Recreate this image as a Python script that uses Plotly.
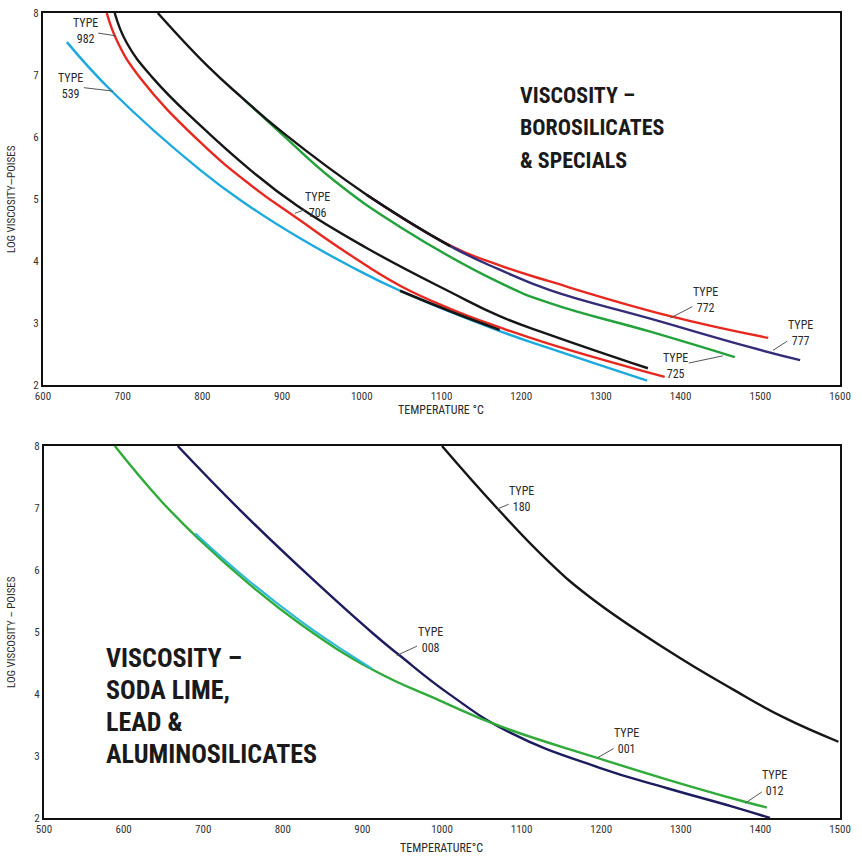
import plotly.graph_objects as go

# ---------------- TOP CHART DATA (Temperature °C, log viscosity) ----------------
t539 = [630, 687, 797, 857, 922, 985, 1048, 1173, 1236, 1358]
v539 = [7.53, 6.73, 5.47, 4.90, 4.37, 3.92, 3.52, 2.87, 2.59, 2.07]

t982 = [680, 694, 722, 797, 860, 922, 985, 1048, 1111, 1173, 1236, 1380]
v982 = [8.0, 7.52, 6.95, 5.92, 5.23, 4.66, 4.10, 3.60, 3.23, 2.93, 2.66, 2.13]

t_overlap = [1048, 1111, 1173]
v_overlap = [3.52, 3.19, 2.89]

t706 = [690, 705, 738, 797, 860, 919, 1006, 1111, 1173, 1236, 1359]
v706 = [8.0, 7.52, 6.95, 6.19, 5.47, 4.89, 4.21, 3.50, 3.11, 2.81, 2.27]

t_shared = [744, 806, 851, 901, 1006, 1111]
v_shared = [8.0, 7.15, 6.62, 6.07, 5.07, 4.24]

t725 = [851, 901, 964, 1048, 1173, 1236, 1362, 1468]
v725 = [6.62, 6.03, 5.31, 4.55, 3.65, 3.32, 2.86, 2.45]

t772 = [1006, 1111, 1173, 1236, 1387, 1510]
v772 = [5.07, 4.25, 3.93, 3.67, 3.11, 2.76]

t777 = [1006, 1111, 1173, 1236, 1362, 1487, 1550]
v777 = [5.07, 4.24, 3.86, 3.53, 3.07, 2.61, 2.40]

top_types = ["982", "539", "706", "772", "777", "725"]
top_ptr_t = [692, 688, 916, 1387, 1516, 1453]
top_ptr_v = [7.63, 6.74, 4.77, 3.08, 2.56, 2.47]
top_txt_t = [653, 635, 945, 1431, 1550, 1394]
top_txt_v = [7.71, 6.82, 4.90, 3.37, 2.84, 2.31]

top_title = ["VISCOSITY –", "BOROSILICATES", "& SPECIALS"]

# ---------------- BOTTOM CHART DATA ----------------
t001 = [589, 646, 696, 759, 822, 913, 998, 1073, 1195, 1283, 1378, 1408]
v001 = [8.0, 7.13, 6.48, 5.76, 5.13, 4.39, 3.89, 3.48, 2.97, 2.62, 2.27, 2.17]

t_cyan = [690, 760, 822, 880, 912]
v_cyan = [6.59, 5.80, 5.18, 4.67, 4.41]

t008 = [668, 746, 830, 913, 947, 1010, 1085, 1198, 1283, 1366, 1412]
v008 = [8.0, 6.97, 5.94, 4.98, 4.62, 3.99, 3.38, 2.81, 2.48, 2.18, 2.0]

t180 = [1000, 1069, 1132, 1186, 1283, 1366, 1428, 1498]
v180 = [8.0, 7.0, 6.16, 5.56, 4.71, 4.07, 3.63, 3.23]

bot_types = ["180", "008", "001", "012"]
bot_ptr_t = [1069, 943, 1195, 1381]
bot_ptr_v = [6.98, 4.62, 2.97, 2.24]
bot_txt_t = [1100, 985, 1232, 1418]
bot_txt_v = [7.15, 4.87, 3.24, 2.56]

bot_title = ["VISCOSITY –", "SODA LIME,", "LEAD &", "ALUMINOSILICATES"]

top_xticks = list(range(600, 1601, 100))
bot_xticks = list(range(500, 1501, 100))
yticks = [2, 3, 4, 5, 6, 7, 8]

NARROW = "Liberation Sans Narrow, Roboto Condensed, Arial Narrow, Roboto, sans-serif"

CYAN = "#1ba9de"
RED = "#e8281f"
BLACK = "#161616"
GREEN = "#22a23a"
PURPLE = "#332c78"
NAVY = "#1d1c5e"
GREEN2 = "#2eab38"
CYAN2 = "#2cb8d8"

fig = go.Figure()


def add(x, y, color, xa, ya, width=2.4):
    fig.add_trace(go.Scatter(
        x=x, y=y, mode="lines",
        line=dict(color=color, width=width, shape="spline", smoothing=1.3),
        xaxis=xa, yaxis=ya, hoverinfo="skip", showlegend=False))


# top chart
add(t539, v539, CYAN, "x", "y")
add(t982, v982, RED, "x", "y")
add(t_overlap, v_overlap, BLACK, "x", "y", 2.5)
add(t706, v706, BLACK, "x", "y")
add(t725, v725, GREEN, "x", "y")
add(t772, v772, RED, "x", "y")
add(t777, v777, PURPLE, "x", "y")
add(t_shared, v_shared, BLACK, "x", "y")

# bottom chart
add(t180, v180, BLACK, "x2", "y2")
add(t008, v008, NAVY, "x2", "y2")
add(t001, v001, GREEN2, "x2", "y2")
add(t_cyan, v_cyan, CYAN2, "x2", "y2", 2.0)

annotations = []
for name, pt, pv, tt, tv in zip(top_types, top_ptr_t, top_ptr_v, top_txt_t, top_txt_v):
    annotations.append(dict(
        x=pt, y=pv, ax=tt, ay=tv, xref="x", yref="y", axref="x", ayref="y",
        text="TYPE<br>" + name, showarrow=True, arrowhead=0, arrowwidth=1,
        arrowcolor="#555555", standoff=0, borderpad=0,
        font=dict(family=NARROW, size=12, color="#2a2a2a")))
for name, pt, pv, tt, tv in zip(bot_types, bot_ptr_t, bot_ptr_v, bot_txt_t, bot_txt_v):
    annotations.append(dict(
        x=pt, y=pv, ax=tt, ay=tv, xref="x2", yref="y2", axref="x2", ayref="y2",
        text="TYPE<br>" + name, showarrow=True, arrowhead=0, arrowwidth=1,
        arrowcolor="#555555", standoff=0, borderpad=0,
        font=dict(family=NARROW, size=12, color="#2a2a2a")))

H = 857.0
W = 862.0
top_title_y = [95, 127, 160]
for line, py in zip(top_title, top_title_y):
    annotations.append(dict(
        x=518 / W, y=1 - py / H, xref="paper", yref="paper",
        xanchor="left", yanchor="middle", showarrow=False,
        text="<b>" + line + "</b>",
        font=dict(family=NARROW, size=22, color="#1a1a1a")))
bot_title_y = [658, 690, 722, 754]
for line, py in zip(bot_title, bot_title_y):
    annotations.append(dict(
        x=104 / W, y=1 - py / H, xref="paper", yref="paper",
        xanchor="left", yanchor="middle", showarrow=False,
        text="<b>" + line + "</b>",
        font=dict(family=NARROW, size=26, color="#1a1a1a")))

# axis titles
title_font = dict(family=NARROW, size=12, color="#2a2a2a")
annotations += [
    dict(x=441 / W, y=1 - 410 / H, xref="paper", yref="paper", showarrow=False,
         xanchor="center", yanchor="middle",
         text="TEMPERATURE °C", font=title_font),
    dict(x=441 / W, y=1 - 848 / H, xref="paper", yref="paper", showarrow=False,
         xanchor="center", yanchor="middle",
         text="TEMPERATURE°C", font=title_font),
    dict(x=11 / W, y=1 - 199 / H, xref="paper", yref="paper", showarrow=False,
         xanchor="center", yanchor="middle",
         textangle=-90, text="LOG VISCOSITY—POISES",
         font=dict(family=NARROW, size=11, color="#2a2a2a")),
    dict(x=11 / W, y=1 - 632 / H, xref="paper", yref="paper", showarrow=False,
         xanchor="center", yanchor="middle",
         textangle=-90, text="LOG VISCOSITY – POISES",
         font=dict(family=NARROW, size=11, color="#2a2a2a")),
]

axis_common = dict(showline=True, mirror=True, linecolor="#111111", linewidth=2,
                   showgrid=False, zeroline=False, ticks="",
                   tickfont=dict(family=NARROW, size=11, color="#333333"),
                   automargin=False, fixedrange=True)

fig.update_layout(
    width=862, height=857,
    margin=dict(l=0, r=0, t=0, b=0),
    paper_bgcolor="white", plot_bgcolor="white",
    showlegend=False,
    annotations=annotations,
    xaxis=dict(domain=[43 / W, 840 / W], range=[600, 1600], tickvals=top_xticks,
               anchor="y", **axis_common),
    yaxis=dict(domain=[1 - 385 / H, 1 - 13 / H], range=[2, 8], tickvals=yticks,
               anchor="x", **axis_common),
    xaxis2=dict(domain=[44 / W, 840 / W], range=[500, 1500], tickvals=bot_xticks,
                anchor="y2", **axis_common),
    yaxis2=dict(domain=[1 - 818 / H, 1 - 446 / H], range=[2, 8], tickvals=yticks,
                anchor="x2", **axis_common),
)

fig.write_html("out.html")
